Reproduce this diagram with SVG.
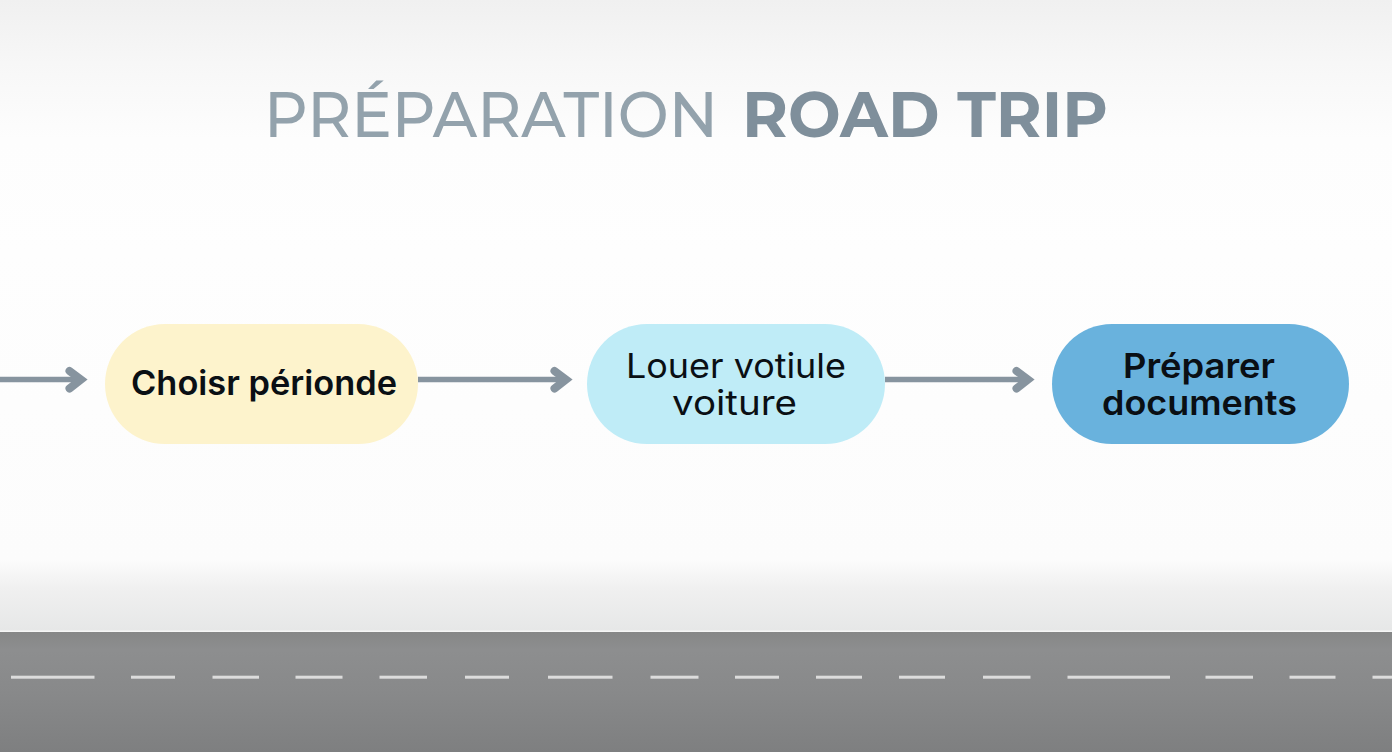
<svg xmlns="http://www.w3.org/2000/svg" width="1392" height="752" viewBox="0 0 1392 752">
<defs>
<linearGradient id="bg" x1="0" y1="0" x2="0" y2="1">
<stop offset="0" stop-color="#f0f0f0"/>
<stop offset="0.1" stop-color="#f7f7f7"/>
<stop offset="0.22" stop-color="#fdfdfd"/>
<stop offset="0.4" stop-color="#fefefe"/>
<stop offset="0.885" stop-color="#fcfcfc"/>
<stop offset="0.93" stop-color="#f0f0f0"/>
<stop offset="1" stop-color="#e6e7e7"/>
</linearGradient>
<linearGradient id="road" x1="0" y1="0" x2="0" y2="1">
<stop offset="0" stop-color="#868787"/>
<stop offset="0.15" stop-color="#8d8e8f"/>
<stop offset="0.5" stop-color="#88898a"/>
<stop offset="1" stop-color="#7e7f80"/>
</linearGradient>
</defs>
<style>
.shaft{fill:none;stroke:#87949f;stroke-width:5.5}
.head{fill:none;stroke:#87949f;stroke-width:8;stroke-linecap:round;stroke-linejoin:miter}
.lbl{font-family:"Inter","Liberation Sans",sans-serif;font-size:34px;fill:#0a0f14}
.semi{font-weight:600}
.reg{font-weight:400}
.ttl{font-family:"Montserrat","Lato","Liberation Sans",sans-serif;font-size:64px}
.dash{fill:#dcdcdc}
</style>
<rect id="background" width="1392" height="632" fill="url(#bg)"/>
<g id="road-band">
<rect y="632" width="1392" height="120" fill="url(#road)"/>
<rect y="630.5" width="1392" height="1.5" fill="#f6f6f6"/>
<g class="dashes">
<rect class="dash" x="11" y="675.7" width="83.5" height="3"/>
<rect class="dash" x="131" y="675.7" width="44" height="3"/>
<rect class="dash" x="212.5" y="675.7" width="46.5" height="3"/>
<rect class="dash" x="295.5" y="675.7" width="47" height="3"/>
<rect class="dash" x="379.5" y="675.7" width="47.5" height="3"/>
<rect class="dash" x="465" y="675.7" width="44" height="3"/>
<rect class="dash" x="548" y="675.7" width="64.5" height="3"/>
<rect class="dash" x="650.5" y="675.7" width="48" height="3"/>
<rect class="dash" x="735" y="675.7" width="44" height="3"/>
<rect class="dash" x="816" y="675.7" width="46" height="3"/>
<rect class="dash" x="899" y="675.7" width="46" height="3"/>
<rect class="dash" x="983" y="675.7" width="47.5" height="3"/>
<rect class="dash" x="1067.5" y="675.7" width="102.5" height="3"/>
<rect class="dash" x="1205.5" y="675.7" width="47.5" height="3"/>
<rect class="dash" x="1289.5" y="675.7" width="46" height="3"/>
<rect class="dash" x="1372.5" y="675.7" width="19.5" height="3"/>
</g>
</g>
<text id="title" class="ttl" y="136.5"><tspan x="264" font-weight="500" fill="#93a2ac" textLength="454" lengthAdjust="spacingAndGlyphs">PRÉPARATION</tspan><tspan x="742" font-weight="700" fill="#7f8f9b" textLength="366" lengthAdjust="spacingAndGlyphs">ROAD TRIP</tspan></text>
<g id="connectors">
<path class="shaft" d="M0 379.5H78"/>
<path class="head" d="M69.5 371L81 379.5L69.5 388.5"/>
<path class="shaft" d="M418 379.5H563"/>
<path class="head" d="M554.5 371L566 379.5L554.5 388.5"/>
<path class="shaft" d="M885 379.5H1025"/>
<path class="head" d="M1016.5 371L1028 379.5L1016.5 388.5"/>
</g>
<g id="node-choisir">
<rect x="105" y="324" width="313" height="120" rx="60" fill="#fdf3cc"/>
<text class="lbl semi" x="131" y="395" textLength="266" lengthAdjust="spacingAndGlyphs">Choisr périonde</text>
</g>
<g id="node-louer">
<rect x="587" y="324" width="298" height="120" rx="60" fill="#bfecf7"/>
<text class="lbl reg" x="626" y="378" textLength="220" lengthAdjust="spacingAndGlyphs">Louer votiule</text>
<text class="lbl reg" x="672" y="415" textLength="125" lengthAdjust="spacingAndGlyphs">voiture</text>
</g>
<g id="node-preparer">
<rect x="1052" y="324" width="297" height="120" rx="60" fill="#69b2dd"/>
<text class="lbl semi" x="1123" y="378" textLength="152" lengthAdjust="spacingAndGlyphs">Préparer</text>
<text class="lbl semi" x="1102" y="415" textLength="195" lengthAdjust="spacingAndGlyphs">documents</text>
</g>
</svg>
